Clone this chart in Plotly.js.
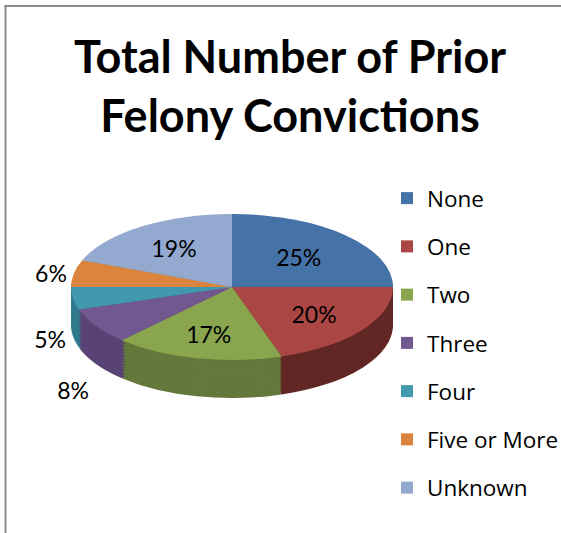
<!DOCTYPE html>
<html><head><meta charset="utf-8">
<script src="https://cdn.plot.ly/plotly-3.0.1.min.js"></script>
<style>html,body{margin:0;padding:0;background:#fff;} #chart{width:561px;height:533px;overflow:hidden;}</style>
</head><body><div id="chart"></div>
<script>
// ---- data ----
const labels = ['None', 'One', 'Two', 'Three', 'Four', 'Five or More', 'Unknown'];
const values = [25, 20, 17, 8, 5, 6, 19];
const topColors = ['#4572A7', '#AA4643', '#89A54E', '#71588F', '#4198AF', '#DB843D', '#93A9CF'];
const sideColors = ['#34578a', '#622725', '#63783a', '#584374', '#2f7a8c', '#a8652e', '#7388ad'];
const textPositions = ['inside', 'inside', 'inside', 'outside', 'outside', 'outside', 'inside'];
const titleText = 'Total Number of Prior<br>Felony Convictions';

// ---- geometry / style ----
const W = 561, H = 533;
const CX = 232, CY = 287, RX = 161, RY = 73, DEPTH = 38;
const K = RY / RX;
const domX = [(CX - RX) / W, (CX + RX) / W];
const cyP = 1 - CY / H;
const domY = [cyP - 0.34, cyP + 0.34];
const depthSteps = [38, 35, 32, 29, 26, 23, 20, 17, 14, 11, 8, 5, 2];
const FONT = 'Lato, "Open Sans", sans-serif';
const LEGFONT = '"Open Sans", Lato, sans-serif';

const data = [];
depthSteps.forEach(() => {
  data.push({
    type: 'pie', labels: labels, values: values, sort: false, direction: 'clockwise', rotation: 0,
    marker: {colors: sideColors, line: {width: 0}}, textinfo: 'none', hoverinfo: 'skip',
    showlegend: false, domain: {x: domX, y: domY}
  });
});
data.push({
  type: 'pie', labels: labels, values: values, sort: false, direction: 'clockwise', rotation: 0,
  marker: {colors: topColors, line: {width: 0}}, textinfo: 'percent', textposition: textPositions,
  insidetextorientation: 'horizontal',
  textfont: {family: FONT, size: 23, color: '#000'},
  outsidetextfont: {family: FONT, size: 23, color: '#000'},
  insidetextfont: {family: FONT, size: 23, color: '#000'},
  hoverinfo: 'skip', showlegend: false, domain: {x: domX, y: domY}
});
labels.forEach((lab, i) => {
  data.push({
    type: 'scatter', x: [null], y: [null], mode: 'markers', name: lab, legendgroup: lab,
    marker: {symbol: 'square', size: 12, color: topColors[i]}, hoverinfo: 'skip'
  });
});

const layout = {
  width: W, height: H, margin: {l: 0, r: 0, t: 0, b: 0, autoexpand: false},
  paper_bgcolor: '#fff', plot_bgcolor: 'rgba(0,0,0,0)',
  title: {text: titleText, x: 290 / W, xanchor: 'center', xref: 'container', y: 1 - 73 / H, yanchor: 'top', yref: 'container',
          font: {family: FONT, size: 45, color: '#000', weight: 'bold'}},
  xaxis: {visible: false}, yaxis: {visible: false},
  showlegend: true,
  legend: {x: 387 / W, xanchor: 'left', y: 1 - 177 / H, yanchor: 'top', font: {family: LEGFONT, size: 22.5, color: '#000'},
           tracegroupgap: 16, itemwidth: 30, bgcolor: 'rgba(0,0,0,0)', itemsizing: 'trace'},
  shapes: [
    {type: 'line', xref: 'paper', yref: 'paper', x0: 4.5 / W, x1: 1, y0: 1 - 6 / H, y1: 1 - 6 / H, line: {color: '#8c8c8c', width: 2}},
    {type: 'line', xref: 'paper', yref: 'paper', x0: 5.5 / W, x1: 5.5 / W, y0: 1 - 5 / H, y1: 0, line: {color: '#8c8c8c', width: 2}}
  ]
};

Plotly.newPlot('chart', data, layout, {staticPlot: true}).then(gd => {
  const svgTop = gd.querySelector('.main-svg').getBoundingClientRect();
  const pieTraces = gd.querySelectorAll('.pielayer .trace');
  pieTraces.forEach((tg, j) => {
    const cd0 = gd.calcdata[j][0];
    const cx = cd0.cx, cy = cd0.cy, r = cd0.r;
    const d = j < depthSteps.length ? depthSteps[j] : 0;
    tg.querySelectorAll('path.surface').forEach(p => {
      p.setAttribute('transform', 'translate(0,' + (cy + d) + ') scale(1,' + K + ') translate(0,' + (-cy) + ')');
    });
    tg.querySelectorAll('path.textline').forEach(p => p.remove());
    tg.querySelectorAll('g.slicetext').forEach(g => {
      const b = g.getBoundingClientRect();
      const tcx = b.left + b.width / 2 - svgTop.left;
      const tcy = b.top + b.height / 2 - svgTop.top;
      const dist = Math.hypot(tcx - cx, tcy - cy);
      let ny = cy + K * (tcy - cy);
      if (dist > r && tcy > cy) {
        const dy = (tcy - cy) / dist;
        ny += DEPTH + 100 * dy * dy;
      }
      g.setAttribute('transform', 'translate(0,' + (ny - tcy) + ')');
    });
  });
});
</script>
</body></html>
